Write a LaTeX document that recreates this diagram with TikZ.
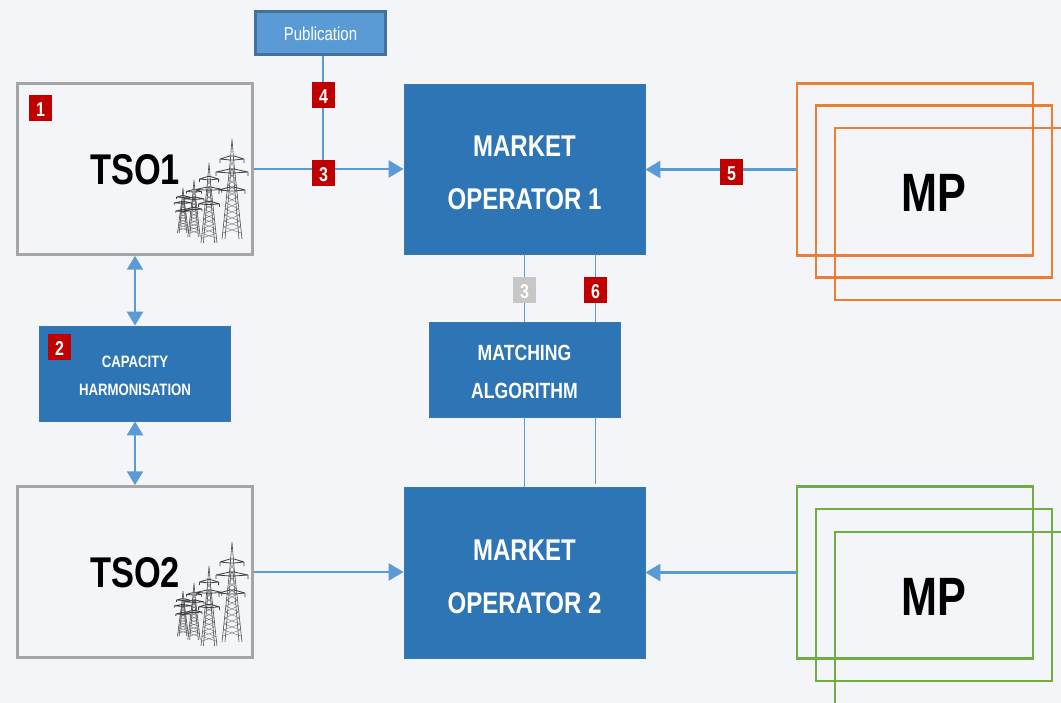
\documentclass[tikz,border=0pt]{standalone}
\usepackage{fontspec}
\setmainfont{Liberation Sans}
\newfontfamily\narrowfont[FakeStretch=0.8]{Liberation Sans}
\usetikzlibrary{arrows.meta}

\definecolor{pagebg}{HTML}{F3F5F8}
\definecolor{moblue}{HTML}{2E75B6}
\definecolor{linkblue}{HTML}{5B9BD5}
\definecolor{pubedge}{HTML}{41719C}
\definecolor{tsogray}{HTML}{A6A6A6}
\definecolor{badgered}{HTML}{C00000}
\definecolor{mporange}{HTML}{ED7D31}
\definecolor{mpgreen}{HTML}{70AD47}

\tikzset{
	opbox/.style={draw=moblue!85!gray, line width=0.8pt, fill=moblue, text=white, align=center, inner sep=0pt},
	mofont/.style={font=\narrowfont\bfseries\fontsize{30}{53}\selectfont, text height=82pt},
	tsobox/.style={draw=tsogray, line width=2.5pt, inner sep=0pt, minimum width=235pt, minimum height=171pt, text height=31pt, font=\narrowfont\bfseries\fontsize{43}{50}\selectfont},
	mpbox/.style={line width=2.4pt, inner sep=0pt, minimum width=236pt, minimum height=172pt, text height=40pt, font=\narrowfont\bfseries\fontsize{54}{60}\selectfont},
	badge/.style={fill=badgered, text=white, inner sep=0pt, minimum width=23pt, minimum height=26pt, text height=17pt, font=\narrowfont\bfseries\fontsize{20}{22}\selectfont},
	arrowlink/.style={-{Triangle[length=15pt,width=17pt]}, draw=linkblue, line width=2.4pt},
	bothlink/.style={{Triangle[length=14pt,width=16pt]}-{Triangle[length=14pt,width=16pt]}, draw=linkblue, line width=2.5pt},
	thinlink/.style={draw=linkblue, line width=1.4pt},
	pylon/.pic={
		% mast, lattice and arms, drawn for a height of 100
		\draw[black!70, line width=0.6pt] (-10,100) -- (-2,25) -- (0,0) -- (2,25) -- (10,100)
			(-7,100) -- (-1,30) (7,100) -- (1,30);
		\foreach \b in {28,34,...,94}
			\draw[black!55, line width=0.4pt] ({-2-(\b-25)*0.107},\b) -- ({2+(\b-6-25)*0.107},\b-6)
				({2+(\b-25)*0.107},\b) -- ({-2-(\b-6-25)*0.107},\b-6);
		\foreach \a/\w in {20/12,33/16,51/13}
			\draw[black!75, line width=0.8pt] (-\w,\a) -- (-2,\a-3) -- (2,\a-3) -- (\w,\a)
				(-\w,\a) -- (-2,\a+1) -- (2,\a+1) -- (\w,\a)
				(-\w,\a) -- (-\w,\a+4) (\w,\a) -- (\w,\a+4);
	}
}

\begin{document}
\begin{tikzpicture}[x=1pt, y=-1pt]
	\useasboundingbox (0, 0) rectangle (1061, 703);
	\clip (0, 0) rectangle (1061, 703);
	\fill[pagebg] (0, 0) rectangle (1061, 703);

	% operators and algorithm
	\node[opbox, mofont, minimum width=241pt, minimum height=170pt] (mo1) at (524.5, 169) {MARKET\\OPERATOR 1};
	\node[opbox, mofont, minimum width=241pt, minimum height=171pt] (mo2) at (524.5, 572.5) {MARKET\\OPERATOR 2};
	\node[opbox, minimum width=191pt, minimum height=95pt, text height=59pt, font=\narrowfont\bfseries\fontsize{22}{38}\selectfont] (algo) at (524.5, 369.5) {MATCHING\\ALGORITHM};
	\node[opbox, minimum width=191pt, minimum height=95pt, text height=44pt, font=\narrowfont\bfseries\fontsize{16.5}{28}\selectfont] (capacity) at (135, 373.5) {CAPACITY\\HARMONISATION};
	\node[draw=pubedge, line width=2.5pt, fill=linkblue, text=white, inner sep=0pt, minimum width=130pt, minimum height=43pt, text height=16pt, font=\narrowfont\fontsize{18.7}{20}\selectfont] (publication) at (320.5, 33) {Publication};

	% TSO boxes
	\node[tsobox] (tso1) at (135, 169) {TSO1};
	\node[tsobox] (tso2) at (135, 572) {TSO2};

	% pylons
	\foreach \dy in {0,403} {
		\pic[xscale=0.55, yscale=0.45] at (183, 188+\dy) {pylon};
		\pic[xscale=0.62, yscale=0.57] at (194, 180+\dy) {pylon};
		\pic[xscale=0.8, yscale=0.8] at (209, 163+\dy) {pylon};
		\pic at (232, 139+\dy) {pylon};
	}

	% market parties
	\node[mpbox, draw=mporange] (mp1a) at (915, 169.5) {};
	\node[mpbox, draw=mporange] (mp1b) at (934, 191.5) {MP};
	\node[mpbox, draw=mporange] (mp1c) at (953, 214) {};
	\node[mpbox, draw=mpgreen] (mp2a) at (915, 572.5) {};
	\node[mpbox, draw=mpgreen] (mp2b) at (934, 595) {MP};
	\node[mpbox, draw=mpgreen] (mp2c) at (953, 618) {};

	% free ends of the thin links
	\coordinate (pubstart) at ([xshift=2.5pt]publication.south);
	\coordinate (pubjoin) at (tso1.east -| pubstart);
	\coordinate (mid1b) at ([xshift=71pt]mo1.south);
	\coordinate (mid2b) at ([xshift=71pt, yshift=3pt]mo2.north);
	\coordinate (algo6t) at ([xshift=71pt]algo.north);
	\coordinate (algo6b) at ([xshift=71pt]algo.south);

	% links
	\draw[arrowlink] (tso1.east) -- (tso1.east -| mo1.west);
	\draw[arrowlink] (tso2.east) -- (tso2.east -| mo2.west);
	\draw[arrowlink] (mp1a.west) -- (mp1a.west -| mo1.east);
	\draw[arrowlink] (mp2a.west) -- (mp2a.west -| mo2.east);
	\draw[bothlink] (tso1.south) -- (capacity.north);
	\draw[bothlink] (capacity.south) -- (tso2.north);
	\draw[thinlink] (pubstart) -- (pubjoin);
	\draw[thinlink] (mo1.south) -- (algo.north);
	\draw[thinlink] (algo.south) -- (mo2.north);
	\draw[thinlink, line width=1.2pt] (mid1b) -- (algo6t);
	\draw[thinlink, line width=1.2pt] (algo6b) -- (mid2b);

	% numbered badges
	\node[badge] (num1) at (40.5, 108) {1};
	\node[badge] (num2) at (59.5, 347) {2};
	\node[badge] (num3) at (323.5, 173.5) {3};
	\node[badge] (num4) at (323.5, 95.5) {4};
	\node[badge] (num5) at (731.5, 172) {5};
	\node[badge] (num6) at (595.5, 290.5) {6};
	\node[badge, fill=black!22] (num3b) at (524.5, 290.5) {3};
\end{tikzpicture}
\end{document}
